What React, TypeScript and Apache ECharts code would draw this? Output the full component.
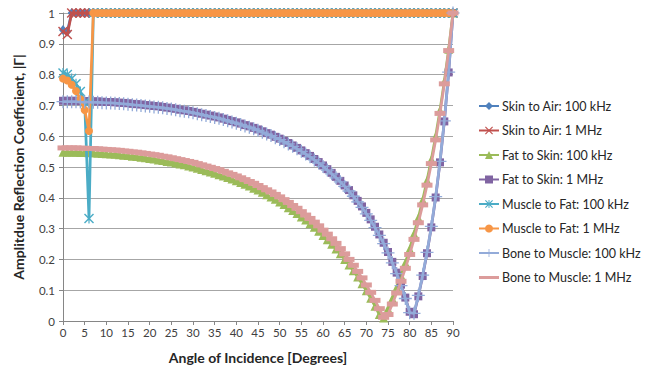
import React, { useEffect, useRef } from "react";
import * as echarts from "echarts";

const angles = [
  0, 1, 2, 3, 4, 5, 6, 7, 8, 9,
  10, 11, 12, 13, 14, 15, 16, 17, 18, 19,
  20, 21, 22, 23, 24, 25, 26, 27, 28, 29,
  30, 31, 32, 33, 34, 35, 36, 37, 38, 39,
  40, 41, 42, 43, 44, 45, 46, 47, 48, 49,
  50, 51, 52, 53, 54, 55, 56, 57, 58, 59,
  60, 61, 62, 63, 64, 65, 66, 67, 68, 69,
  70, 71, 72, 73, 74, 75, 76, 77, 78, 79,
  80, 81, 82, 83, 84, 85, 86, 87, 88, 89,
  90,
];

const skinAir100k = [
  0.945, 0.94, 1, 1, 1, 1, 1, 1, 1, 1,
  1, 1, 1, 1, 1, 1, 1, 1, 1, 1,
  1, 1, 1, 1, 1, 1, 1, 1, 1, 1,
  1, 1, 1, 1, 1, 1, 1, 1, 1, 1,
  1, 1, 1, 1, 1, 1, 1, 1, 1, 1,
  1, 1, 1, 1, 1, 1, 1, 1, 1, 1,
  1, 1, 1, 1, 1, 1, 1, 1, 1, 1,
  1, 1, 1, 1, 1, 1, 1, 1, 1, 1,
  1, 1, 1, 1, 1, 1, 1, 1, 1, 1,
  1,
];

const skinAir1M = [
  0.94, 0.93, 1, 1, 1, 1, 1, 1, 1, 1,
  1, 1, 1, 1, 1, 1, 1, 1, 1, 1,
  1, 1, 1, 1, 1, 1, 1, 1, 1, 1,
  1, 1, 1, 1, 1, 1, 1, 1, 1, 1,
  1, 1, 1, 1, 1, 1, 1, 1, 1, 1,
  1, 1, 1, 1, 1, 1, 1, 1, 1, 1,
  1, 1, 1, 1, 1, 1, 1, 1, 1, 1,
  1, 1, 1, 1, 1, 1, 1, 1, 1, 1,
  1, 1, 1, 1, 1, 1, 1, 1, 1, 1,
  1,
];

const fatSkin100k = [
  0.548, 0.548, 0.548, 0.548, 0.547, 0.547, 0.546, 0.546, 0.545, 0.544,
  0.543, 0.542, 0.541, 0.54, 0.538, 0.537, 0.535, 0.534, 0.532, 0.53,
  0.528, 0.526, 0.523, 0.521, 0.518, 0.516, 0.513, 0.51, 0.507, 0.503,
  0.5, 0.496, 0.492, 0.488, 0.484, 0.48, 0.475, 0.471, 0.466, 0.461,
  0.455, 0.45, 0.444, 0.438, 0.431, 0.425, 0.418, 0.41, 0.403, 0.395,
  0.386, 0.378, 0.368, 0.359, 0.349, 0.338, 0.328, 0.316, 0.304, 0.291,
  0.278, 0.264, 0.249, 0.234, 0.218, 0.2, 0.182, 0.163, 0.143, 0.121,
  0.098, 0.074, 0.048, 0.021, 0.01, 0.04, 0.073, 0.109, 0.148, 0.189,
  0.234, 0.283, 0.335, 0.393, 0.456, 0.524, 0.6, 0.684, 0.778, 0.882,
  1,
];

const fatSkin1M = [
  0.715, 0.715, 0.715, 0.715, 0.714, 0.714, 0.714, 0.713, 0.713, 0.712,
  0.711, 0.711, 0.71, 0.709, 0.708, 0.707, 0.705, 0.704, 0.703, 0.701,
  0.7, 0.698, 0.697, 0.695, 0.693, 0.691, 0.689, 0.686, 0.684, 0.682,
  0.679, 0.676, 0.673, 0.67, 0.667, 0.664, 0.661, 0.657, 0.653, 0.649,
  0.645, 0.641, 0.636, 0.632, 0.627, 0.622, 0.616, 0.61, 0.605, 0.598,
  0.592, 0.585, 0.578, 0.57, 0.562, 0.554, 0.545, 0.536, 0.526, 0.516,
  0.505, 0.493, 0.481, 0.468, 0.455, 0.44, 0.425, 0.408, 0.39, 0.372,
  0.351, 0.33, 0.306, 0.281, 0.254, 0.224, 0.192, 0.157, 0.118, 0.076,
  0.03, 0.022, 0.08, 0.146, 0.22, 0.304, 0.401, 0.515, 0.648, 0.807,
  1,
];

const muscleFat100k = [
  0.805, 0.8, 0.787, 0.77, 0.745, 0.71, 0.333, 1, 1, 1,
  1, 1, 1, 1, 1, 1, 1, 1, 1, 1,
  1, 1, 1, 1, 1, 1, 1, 1, 1, 1,
  1, 1, 1, 1, 1, 1, 1, 1, 1, 1,
  1, 1, 1, 1, 1, 1, 1, 1, 1, 1,
  1, 1, 1, 1, 1, 1, 1, 1, 1, 1,
  1, 1, 1, 1, 1, 1, 1, 1, 1, 1,
  1, 1, 1, 1, 1, 1, 1, 1, 1, 1,
  1, 1, 1, 1, 1, 1, 1, 1, 1, 1,
  1,
];

const muscleFat1M = [
  0.787, 0.781, 0.767, 0.747, 0.72, 0.685, 0.617, 1, 1, 1,
  1, 1, 1, 1, 1, 1, 1, 1, 1, 1,
  1, 1, 1, 1, 1, 1, 1, 1, 1, 1,
  1, 1, 1, 1, 1, 1, 1, 1, 1, 1,
  1, 1, 1, 1, 1, 1, 1, 1, 1, 1,
  1, 1, 1, 1, 1, 1, 1, 1, 1, 1,
  1, 1, 1, 1, 1, 1, 1, 1, 1, 1,
  1, 1, 1, 1, 1, 1, 1, 1, 1, 1,
  1, 1, 1, 1, 1, 1, 1, 1, 1, 1,
  1,
];

const boneMuscle100k = [
  0.712, 0.712, 0.712, 0.712, 0.711, 0.711, 0.711, 0.71, 0.71, 0.709,
  0.708, 0.708, 0.707, 0.706, 0.705, 0.704, 0.702, 0.701, 0.7, 0.698,
  0.697, 0.695, 0.694, 0.692, 0.69, 0.688, 0.686, 0.683, 0.681, 0.679,
  0.676, 0.673, 0.67, 0.667, 0.664, 0.661, 0.658, 0.654, 0.65, 0.646,
  0.642, 0.638, 0.633, 0.629, 0.624, 0.619, 0.613, 0.607, 0.602, 0.595,
  0.589, 0.582, 0.575, 0.567, 0.559, 0.551, 0.542, 0.533, 0.523, 0.513,
  0.502, 0.49, 0.478, 0.465, 0.452, 0.437, 0.422, 0.405, 0.387, 0.369,
  0.348, 0.327, 0.303, 0.278, 0.251, 0.221, 0.189, 0.154, 0.115, 0.073,
  0.027, 0.025, 0.083, 0.149, 0.223, 0.307, 0.404, 0.518, 0.65, 0.808,
  1,
];

const boneMuscle1M = [
  0.562, 0.562, 0.562, 0.562, 0.561, 0.561, 0.56, 0.56, 0.559, 0.558,
  0.557, 0.556, 0.555, 0.554, 0.552, 0.551, 0.549, 0.548, 0.546, 0.544,
  0.542, 0.54, 0.538, 0.535, 0.533, 0.53, 0.527, 0.524, 0.521, 0.518,
  0.515, 0.511, 0.507, 0.503, 0.499, 0.495, 0.491, 0.486, 0.481, 0.476,
  0.471, 0.465, 0.459, 0.453, 0.447, 0.44, 0.433, 0.426, 0.419, 0.411,
  0.403, 0.394, 0.385, 0.375, 0.366, 0.355, 0.344, 0.333, 0.321, 0.309,
  0.295, 0.282, 0.267, 0.252, 0.235, 0.218, 0.2, 0.181, 0.161, 0.14,
  0.117, 0.093, 0.067, 0.04, 0.012, 0.021, 0.055, 0.091, 0.129, 0.171,
  0.216, 0.265, 0.319, 0.377, 0.441, 0.511, 0.588, 0.674, 0.77, 0.878,
  1,
];

const seriesNames = [
  "Skin to Air: 100 kHz",
  "Skin to Air: 1 MHz",
  "Fat to Skin: 100 kHz",
  "Fat to Skin: 1 MHz",
  "Muscle to Fat: 100 kHz",
  "Muscle to Fat: 1 MHz",
  "Bone to Muscle: 100 kHz",
  "Bone to Muscle: 1 MHz",
];

const xTitle = "Angle of Incidence [Degrees]";
const yTitle = "Amplitdue Reflection Coefficient, |Γ|";

const FONT = "Lato, 'Open Sans', sans-serif";

const X_SYMBOL =
  "path://M1,0 L5,4 L9,0 L10,1 L6,5 L10,9 L9,10 L5,6 L1,10 L0,9 L4,5 L0,1 Z";
const STAR_SYMBOL =
  "path://M1,0 L5,4 L9,0 L10,1 L6,5 L10,9 L9,10 L5,6 L1,10 L0,9 L4,5 L0,1 Z M4.4,0 L5.6,0 L5.6,10 L4.4,10 Z";
const PLUS_SYMBOL =
  "path://M0,4.5 L10,4.5 L10,5.5 L0,5.5 Z M4.5,0 L5.5,0 L5.5,10 L4.5,10 Z";
const PINK_LEGEND_ICON =
  "path://M0,0 L0.01,0 L0.01,0.01 Z M0,3.6 L20,3.6 L20,6.4 L0,6.4 Z M0,10 L0.01,10 L0.01,9.99 Z";

export default function App() {
  const ref = useRef<HTMLDivElement>(null);

  useEffect(() => {
    if (!ref.current) return;
    const chart = echarts.init(ref.current, null, { renderer: "svg" });

    const styles = [
      { color: "#4F81BD", symbol: "diamond", size: [8, 10] },
      { color: "#C0504D", symbol: X_SYMBOL, size: 10 },
      { color: "#9BBB59", symbol: "triangle", size: 9 },
      { color: "#8064A2", symbol: "rect", size: 8 },
      { color: "#4BACC6", symbol: STAR_SYMBOL, size: 10 },
      { color: "#F79646", symbol: "circle", size: 8 },
      { color: "#93ABD9", symbol: PLUS_SYMBOL, size: 13 },
      { color: "#DC9C9B", symbol: "rect", size: [11, 5] },
    ];
    const values = [
      skinAir100k,
      skinAir1M,
      fatSkin100k,
      fatSkin1M,
      muscleFat100k,
      muscleFat1M,
      boneMuscle100k,
      boneMuscle1M,
    ];

    const series = values.map((vals, i) => ({
      name: seriesNames[i],
      type: "line",
      data: angles.map((a, j) => [a, vals[j]]),
      symbol: styles[i].symbol,
      symbolSize: styles[i].size,
      showSymbol: true,
      showAllSymbol: true,
      clip: false,
      lineStyle: { color: styles[i].color, width: 2.75 },
      itemStyle: { color: styles[i].color, borderWidth: 0 },
      emphasis: { disabled: true },
      z: 2 + i,
    }));

    const legendData = seriesNames.map((n, i) =>
      i === 7 ? { name: n, icon: PINK_LEGEND_ICON } : { name: n }
    );

    chart.setOption({
      animation: false,
      backgroundColor: "#ffffff",
      textStyle: { fontFamily: FONT },
      grid: { left: 63, right: 209, top: 13, bottom: 53 },
      legend: {
        orient: "vertical",
        left: 473,
        top: 94,
        itemWidth: 20,
        itemHeight: 10,
        itemGap: 10.5,
        selectedMode: false,
        textStyle: {
          fontFamily: FONT,
          fontSize: 12.5,
          color: "#262626",
          lineHeight: 14,
          padding: [0, 0, 0, -2],
        },
        data: legendData,
      },
      xAxis: {
        type: "value",
        min: 0,
        max: 90,
        interval: 5,
        name: xTitle,
        nameLocation: "middle",
        nameGap: 29,
        nameTextStyle: {
          fontFamily: FONT,
          fontSize: 14,
          fontWeight: "bold",
          color: "#262626",
        },
        axisLine: { show: true, lineStyle: { color: "#868686", width: 1 } },
        axisTick: { show: true, length: 4, lineStyle: { color: "#868686" } },
        axisLabel: {
          fontFamily: FONT,
          fontSize: 11.5,
          color: "#404040",
          margin: 5,
        },
        splitLine: { show: false },
      },
      yAxis: {
        type: "value",
        min: 0,
        max: 1,
        interval: 0.1,
        name: yTitle,
        nameLocation: "middle",
        nameGap: 38,
        nameRotate: 90,
        nameTextStyle: {
          fontFamily: FONT,
          fontSize: 14,
          fontWeight: "bold",
          color: "#262626",
        },
        axisLine: { show: true, lineStyle: { color: "#868686", width: 1 } },
        axisTick: { show: true, length: 4, lineStyle: { color: "#868686" } },
        axisLabel: {
          fontFamily: FONT,
          fontSize: 11.5,
          color: "#404040",
          margin: 8,
        },
        splitLine: { show: true, lineStyle: { color: "#A6A6A6", width: 1 } },
      },
      series,
    });

    return () => chart.dispose();
  }, []);

  return (
    <div
      ref={ref}
      style={{ position: "fixed", left: 0, top: 0, width: 662, height: 374 }}
    />
  );
}
